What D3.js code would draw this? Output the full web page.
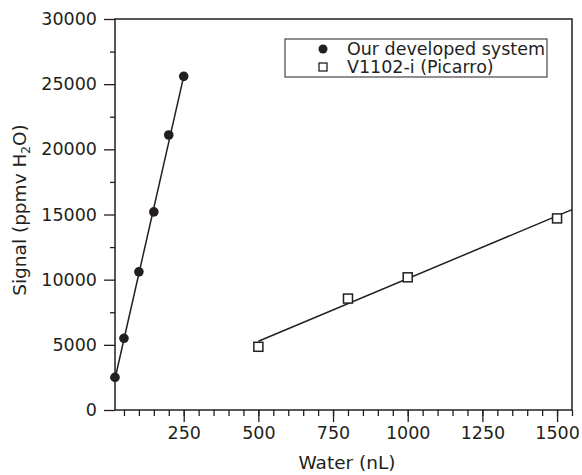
<!DOCTYPE html>
<html><head><meta charset="utf-8">
<script src="https://cdn.jsdelivr.net/npm/d3@7"></script>
<style>body{margin:0;background:#fff}svg{display:block}text{font-family:"DejaVu Sans",sans-serif;fill:#231f20}</style>
</head><body>
<svg id="c" width="582" height="475"></svg>
<script>
// Data
const oursWater = [20, 50, 100, 150, 200, 250];
const oursSignal = [2500, 5500, 10600, 15200, 21100, 25600];
const picarroWater = [500, 800, 1000, 1500];
const picarroSignal = [4850, 8550, 10180, 14700];
const oursFit = [[20, 2400], [250, 25600]];
const picarroFit = [[500, 5280], [1550, 15370]];
const xTicks = [250, 500, 750, 1000, 1250, 1500];
const yTicks = [0, 5000, 10000, 15000, 20000, 25000, 30000];
const seriesNames = ["Our developed system", "V1102-i (Picarro)"];

const svg = d3.select("#c");
const L = 115, R = 572, T = 19, B = 410;
const x = d3.scaleLinear().domain([20, 1550]).range([L, R]);
const y = d3.scaleLinear().domain([0, 30000]).range([B, T]);
const ink = "#231f20";
const FONT = "DejaVu Sans";

// frame
svg.append("rect").attr("x", L).attr("y", T).attr("width", R - L).attr("height", B - T)
  .attr("fill", "none").attr("stroke", ink).attr("stroke-width", 1.5);

// x axis
const xMinor = d3.range(50, 1551, 50);
const gx = svg.append("g").attr("transform", `translate(0,${B})`);
gx.append("g").call(d3.axisBottom(x).tickValues(xMinor).tickSize(6).tickFormat(""))
  .call(g => { g.select(".domain").remove(); g.selectAll("line").attr("stroke", ink).attr("stroke-width", 1.3); });
gx.append("g").call(d3.axisBottom(x).tickValues(xTicks).tickSize(12).tickPadding(5).tickFormat(d3.format("d")))
  .call(g => { g.select(".domain").remove(); g.selectAll("line").attr("stroke", ink).attr("stroke-width", 1.3);
    g.selectAll("text").attr("font-size", 17.5).attr("font-family", FONT).attr("fill", ink); });

// y axis
const yMinor = d3.range(2500, 30000, 5000);
const gy = svg.append("g").attr("transform", `translate(${L},0)`);
gy.append("g").call(d3.axisLeft(y).tickValues(yMinor).tickSize(5).tickFormat(""))
  .call(g => { g.select(".domain").remove(); g.selectAll("line").attr("stroke", ink).attr("stroke-width", 1.3); });
gy.append("g").call(d3.axisLeft(y).tickValues(yTicks).tickSize(11).tickPadding(7).tickFormat(d3.format("d")))
  .call(g => { g.select(".domain").remove(); g.selectAll("line").attr("stroke", ink).attr("stroke-width", 1.3);
    g.selectAll("text").attr("font-size", 17.5).attr("font-family", FONT).attr("fill", ink); });

// fit lines
const line = d3.line().x(d => x(d[0])).y(d => y(d[1]));
svg.append("path").attr("d", line(oursFit)).attr("fill", "none").attr("stroke", ink).attr("stroke-width", 1.5);
svg.append("path").attr("d", line(picarroFit)).attr("fill", "none").attr("stroke", ink).attr("stroke-width", 1.5);

// points
svg.append("g").selectAll("circle").data(oursWater).join("circle")
  .attr("cx", d => x(d)).attr("cy", (d, i) => y(oursSignal[i])).attr("r", 4.8).attr("fill", ink);
svg.append("g").selectAll("rect").data(picarroWater).join("rect")
  .attr("x", d => x(d) - 4.5).attr("y", (d, i) => y(picarroSignal[i]) - 4.5)
  .attr("width", 9).attr("height", 9).attr("fill", "#fff").attr("stroke", ink).attr("stroke-width", 1.5);

// legend
svg.append("rect").attr("x", 285).attr("y", 39).attr("width", 262).attr("height", 38)
  .attr("fill", "#fff").attr("stroke", ink).attr("stroke-width", 1);
svg.append("circle").attr("cx", 323).attr("cy", 49).attr("r", 4.5).attr("fill", ink);
svg.append("rect").attr("x", 319).attr("y", 63).attr("width", 8).attr("height", 8)
  .attr("fill", "#fff").attr("stroke", ink).attr("stroke-width", 1.3);
svg.append("text").attr("x", 347).attr("y", 55).attr("font-size", 17.5).text(seriesNames[0]);
svg.append("text").attr("x", 347).attr("y", 73).attr("font-size", 17.5).text(seriesNames[1]);

// axis titles
svg.append("text").attr("x", 347).attr("y", 469).attr("text-anchor", "middle")
  .attr("font-size", 18.5).text("Water (nL)");
const yl = svg.append("text").attr("transform", `translate(26,210) rotate(-90)`)
  .attr("text-anchor", "middle").attr("font-size", 18.5);
yl.append("tspan").text("Signal (ppmv H");
yl.append("tspan").attr("font-size", 12).attr("dy", 4).text("2");
yl.append("tspan").attr("dy", -4).text("O)");
</script>
</body></html>
